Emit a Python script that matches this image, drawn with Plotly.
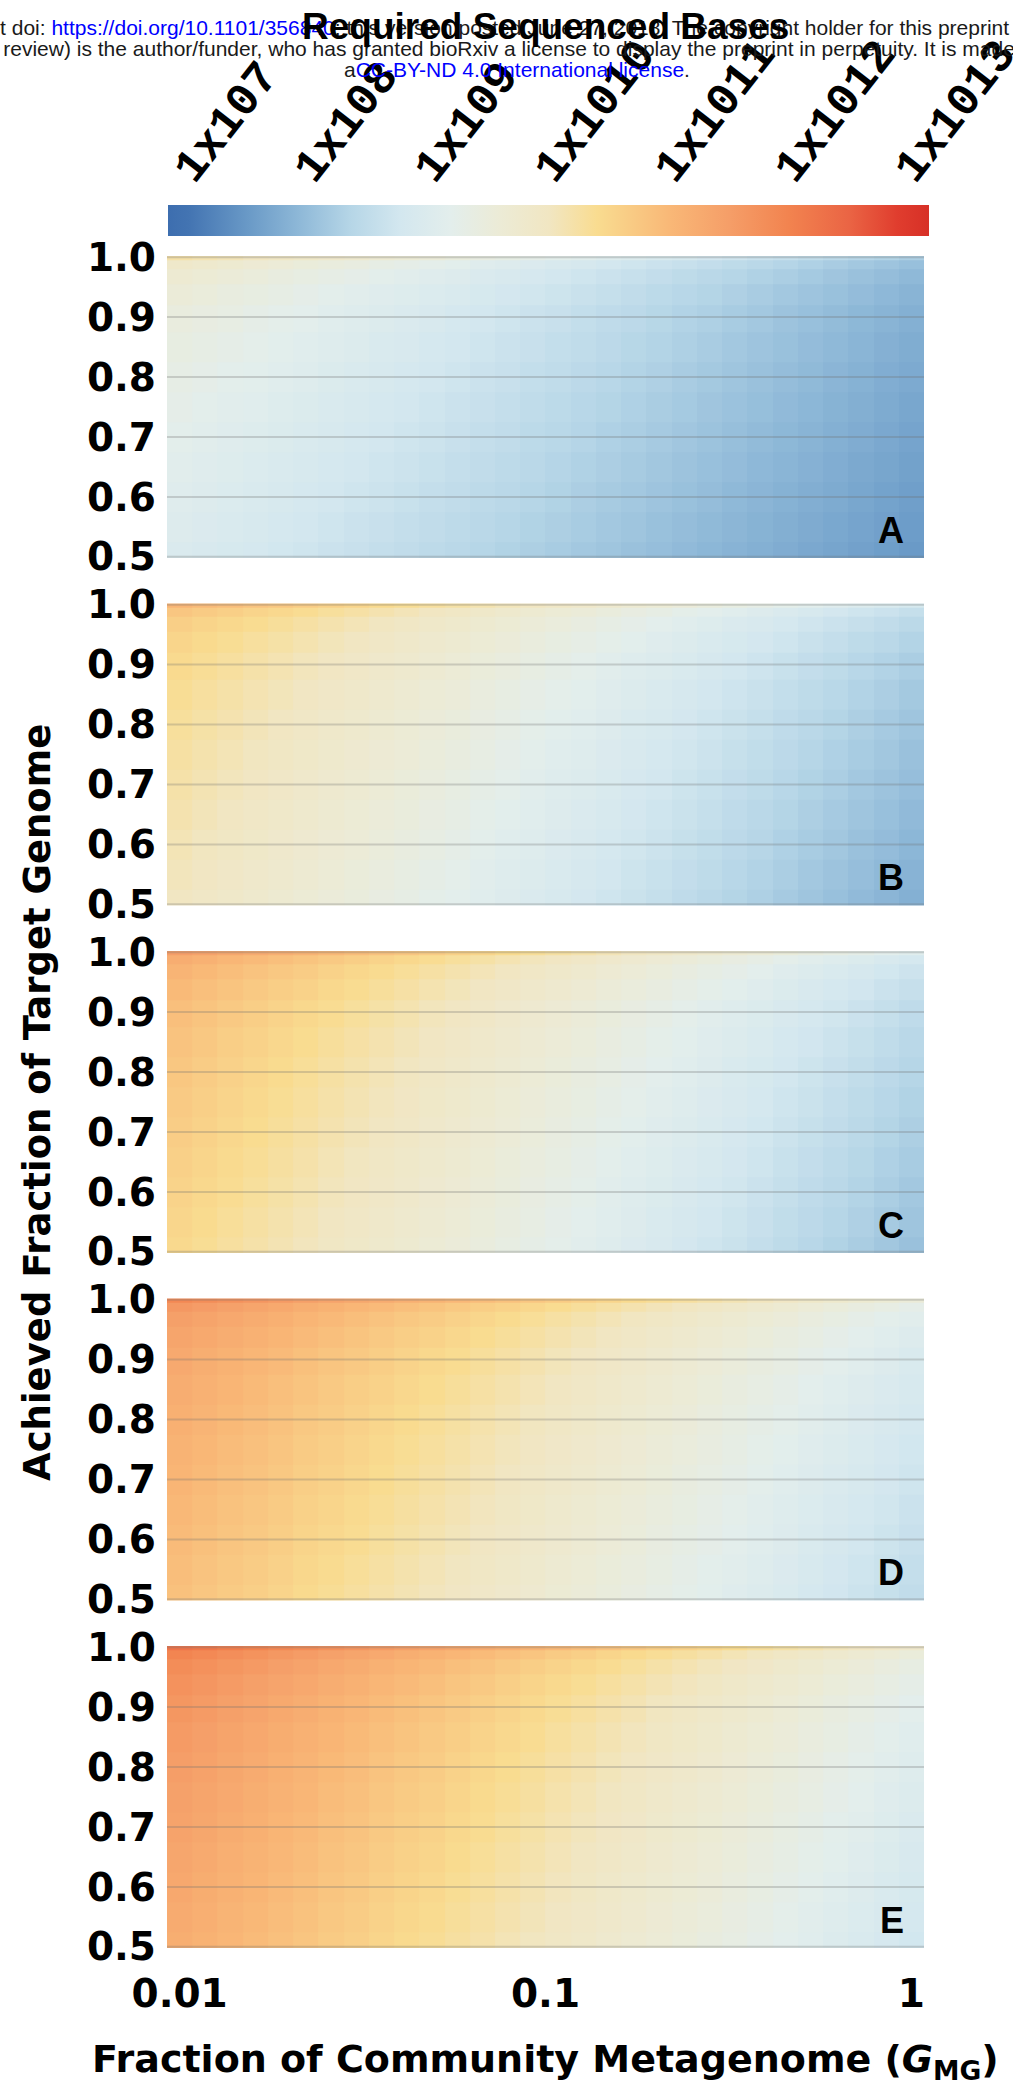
import math
import plotly.graph_objects as go
from plotly.subplots import make_subplots

# Column centres: fraction of the community metagenome (G_MG), 30 log-spaced values
gmg_fraction = [0.01, 0.01172, 0.01374, 0.01610, 0.01887, 0.02212, 0.02593, 0.03039, 0.03562, 0.04175,
                0.04894, 0.05736, 0.06723, 0.07880, 0.09237, 0.10826, 0.12690, 0.14874, 0.17433, 0.20434,
                0.23950, 0.28072, 0.32903, 0.38566, 0.45204, 0.52983, 0.62102, 0.72790, 0.85317, 1.0]

# Row centres: achieved fraction of the target genome
target_fraction = [0.5, 0.55, 0.6, 0.65, 0.7, 0.75, 0.8, 0.85, 0.9, 0.94, 0.97, 0.99, 1.0]

# log10(required sequenced bases), one row per target_fraction value (bottom to top)
log10_bases_A = [
    [8.95, 8.90, 8.85, 8.80, 8.75, 8.70, 8.65, 8.60, 8.55, 8.50, 8.45, 8.40, 8.35, 8.30, 8.25, 8.20, 8.15, 8.10, 8.05, 8.00, 7.95, 7.90, 7.85, 7.80, 7.75, 7.70, 7.65, 7.60, 7.55, 7.50],
    [9.01, 8.96, 8.91, 8.86, 8.81, 8.76, 8.71, 8.65, 8.60, 8.55, 8.50, 8.45, 8.40, 8.35, 8.30, 8.25, 8.20, 8.15, 8.10, 8.04, 7.99, 7.94, 7.89, 7.84, 7.79, 7.74, 7.69, 7.64, 7.59, 7.54],
    [9.07, 9.02, 8.97, 8.92, 8.86, 8.81, 8.76, 8.71, 8.66, 8.61, 8.55, 8.50, 8.45, 8.40, 8.35, 8.30, 8.24, 8.19, 8.14, 8.09, 8.04, 7.99, 7.93, 7.88, 7.83, 7.78, 7.73, 7.68, 7.62, 7.57],
    [9.13, 9.08, 9.03, 8.97, 8.92, 8.87, 8.82, 8.76, 8.71, 8.66, 8.61, 8.55, 8.50, 8.45, 8.40, 8.34, 8.29, 8.24, 8.19, 8.13, 8.08, 8.03, 7.98, 7.92, 7.87, 7.82, 7.77, 7.71, 7.66, 7.61],
    [9.19, 9.14, 9.08, 9.03, 8.98, 8.92, 8.87, 8.82, 8.76, 8.71, 8.66, 8.60, 8.55, 8.50, 8.44, 8.39, 8.34, 8.28, 8.23, 8.18, 8.12, 8.07, 8.02, 7.96, 7.91, 7.86, 7.80, 7.75, 7.70, 7.64],
    [9.25, 9.20, 9.14, 9.09, 9.03, 8.98, 8.93, 8.87, 8.82, 8.76, 8.71, 8.65, 8.60, 8.55, 8.49, 8.44, 8.38, 8.33, 8.28, 8.22, 8.17, 8.11, 8.06, 8.01, 7.95, 7.90, 7.84, 7.79, 7.73, 7.68],
    [9.31, 9.26, 9.20, 9.15, 9.09, 9.04, 8.98, 8.93, 8.87, 8.82, 8.76, 8.71, 8.65, 8.60, 8.54, 8.49, 8.43, 8.38, 8.32, 8.27, 8.21, 8.16, 8.10, 8.05, 7.99, 7.94, 7.88, 7.83, 7.77, 7.72],
    [9.38, 9.32, 9.27, 9.21, 9.16, 9.10, 9.04, 8.99, 8.93, 8.88, 8.82, 8.77, 8.71, 8.65, 8.60, 8.54, 8.49, 8.43, 8.37, 8.32, 8.26, 8.21, 8.15, 8.09, 8.04, 7.98, 7.93, 7.87, 7.81, 7.76],
    [9.45, 9.39, 9.34, 9.28, 9.22, 9.17, 9.11, 9.05, 9.00, 8.94, 8.88, 8.82, 8.77, 8.71, 8.65, 8.60, 8.54, 8.48, 8.43, 8.37, 8.31, 8.26, 8.20, 8.14, 8.08, 8.03, 7.97, 7.91, 7.86, 7.80],
    [9.55, 9.49, 9.43, 9.38, 9.32, 9.26, 9.20, 9.14, 9.08, 9.03, 8.97, 8.91, 8.85, 8.79, 8.73, 8.68, 8.62, 8.56, 8.50, 8.44, 8.38, 8.33, 8.27, 8.21, 8.15, 8.09, 8.04, 7.98, 7.92, 7.86],
    [9.67, 9.61, 9.55, 9.49, 9.43, 9.37, 9.31, 9.25, 9.19, 9.13, 9.07, 9.01, 8.95, 8.89, 8.83, 8.77, 8.71, 8.65, 8.59, 8.53, 8.47, 8.41, 8.35, 8.29, 8.23, 8.17, 8.11, 8.05, 7.99, 7.93],
    [9.83, 9.77, 9.71, 9.64, 9.58, 9.52, 9.46, 9.40, 9.33, 9.27, 9.21, 9.15, 9.08, 9.02, 8.96, 8.90, 8.84, 8.77, 8.71, 8.65, 8.59, 8.53, 8.46, 8.40, 8.34, 8.28, 8.21, 8.15, 8.09, 8.03],
    [10.20, 10.13, 10.07, 10.00, 9.93, 9.86, 9.80, 9.73, 9.66, 9.60, 9.53, 9.46, 9.39, 9.33, 9.26, 9.19, 9.12, 9.06, 8.99, 8.92, 8.86, 8.79, 8.72, 8.65, 8.59, 8.52, 8.45, 8.38, 8.32, 8.25],
]

log10_bases_B = [
    [10.00, 9.92, 9.85, 9.77, 9.70, 9.62, 9.54, 9.47, 9.39, 9.32, 9.24, 9.17, 9.09, 9.01, 8.94, 8.86, 8.79, 8.71, 8.63, 8.56, 8.48, 8.41, 8.33, 8.26, 8.18, 8.10, 8.03, 7.95, 7.88, 7.80],
    [10.05, 9.97, 9.90, 9.82, 9.75, 9.67, 9.59, 9.52, 9.44, 9.37, 9.29, 9.22, 9.14, 9.06, 8.99, 8.91, 8.84, 8.76, 8.68, 8.61, 8.53, 8.46, 8.38, 8.31, 8.23, 8.15, 8.08, 8.00, 7.93, 7.85],
    [10.10, 10.02, 9.95, 9.87, 9.80, 9.72, 9.64, 9.57, 9.49, 9.42, 9.34, 9.27, 9.19, 9.11, 9.04, 8.96, 8.89, 8.81, 8.73, 8.66, 8.58, 8.51, 8.43, 8.36, 8.28, 8.20, 8.13, 8.05, 7.98, 7.90],
    [10.15, 10.07, 10.00, 9.92, 9.85, 9.77, 9.69, 9.62, 9.54, 9.47, 9.39, 9.32, 9.24, 9.16, 9.09, 9.01, 8.94, 8.86, 8.78, 8.71, 8.63, 8.56, 8.48, 8.41, 8.33, 8.25, 8.18, 8.10, 8.03, 7.95],
    [10.20, 10.12, 10.05, 9.97, 9.90, 9.82, 9.74, 9.67, 9.59, 9.52, 9.44, 9.37, 9.29, 9.21, 9.14, 9.06, 8.99, 8.91, 8.83, 8.76, 8.68, 8.61, 8.53, 8.46, 8.38, 8.30, 8.23, 8.15, 8.08, 8.00],
    [10.25, 10.17, 10.10, 10.02, 9.95, 9.87, 9.79, 9.72, 9.64, 9.57, 9.49, 9.42, 9.34, 9.26, 9.19, 9.11, 9.04, 8.96, 8.88, 8.81, 8.73, 8.66, 8.58, 8.51, 8.43, 8.35, 8.28, 8.20, 8.13, 8.05],
    [10.30, 10.22, 10.15, 10.07, 10.00, 9.92, 9.84, 9.77, 9.69, 9.62, 9.54, 9.47, 9.39, 9.31, 9.24, 9.16, 9.09, 9.01, 8.93, 8.86, 8.78, 8.71, 8.63, 8.56, 8.48, 8.40, 8.33, 8.25, 8.18, 8.10],
    [10.36, 10.28, 10.21, 10.13, 10.06, 9.98, 9.90, 9.83, 9.75, 9.68, 9.60, 9.53, 9.45, 9.37, 9.30, 9.22, 9.15, 9.07, 8.99, 8.92, 8.84, 8.77, 8.69, 8.62, 8.54, 8.46, 8.39, 8.31, 8.24, 8.16],
    [10.43, 10.35, 10.28, 10.20, 10.13, 10.05, 9.97, 9.90, 9.82, 9.75, 9.67, 9.60, 9.52, 9.44, 9.37, 9.29, 9.22, 9.14, 9.06, 8.99, 8.91, 8.84, 8.76, 8.69, 8.61, 8.53, 8.46, 8.38, 8.31, 8.23],
    [10.52, 10.44, 10.37, 10.29, 10.22, 10.14, 10.06, 9.99, 9.91, 9.84, 9.76, 9.69, 9.61, 9.53, 9.46, 9.38, 9.31, 9.23, 9.15, 9.08, 9.00, 8.93, 8.85, 8.78, 8.70, 8.62, 8.55, 8.47, 8.40, 8.32],
    [10.62, 10.54, 10.47, 10.39, 10.32, 10.24, 10.16, 10.09, 10.01, 9.94, 9.86, 9.79, 9.71, 9.63, 9.56, 9.48, 9.41, 9.33, 9.25, 9.18, 9.10, 9.03, 8.95, 8.88, 8.80, 8.72, 8.65, 8.57, 8.50, 8.42],
    [10.76, 10.68, 10.61, 10.53, 10.46, 10.38, 10.30, 10.23, 10.15, 10.08, 10.00, 9.93, 9.85, 9.77, 9.70, 9.62, 9.55, 9.47, 9.39, 9.32, 9.24, 9.17, 9.09, 9.02, 8.94, 8.86, 8.79, 8.71, 8.64, 8.56],
    [11.05, 10.97, 10.90, 10.82, 10.75, 10.67, 10.59, 10.52, 10.44, 10.37, 10.29, 10.22, 10.14, 10.06, 9.99, 9.91, 9.84, 9.76, 9.68, 9.61, 9.53, 9.46, 9.38, 9.31, 9.23, 9.15, 9.08, 9.00, 8.93, 8.85],
]

log10_bases_C = [
    [10.45, 10.37, 10.28, 10.20, 10.12, 10.04, 9.95, 9.87, 9.79, 9.71, 9.62, 9.54, 9.46, 9.37, 9.29, 9.21, 9.13, 9.04, 8.96, 8.88, 8.79, 8.71, 8.63, 8.55, 8.46, 8.38, 8.30, 8.22, 8.13, 8.05],
    [10.50, 10.42, 10.33, 10.25, 10.17, 10.09, 10.00, 9.92, 9.84, 9.76, 9.67, 9.59, 9.51, 9.42, 9.34, 9.26, 9.18, 9.09, 9.01, 8.93, 8.84, 8.76, 8.68, 8.60, 8.51, 8.43, 8.35, 8.27, 8.18, 8.10],
    [10.55, 10.47, 10.38, 10.30, 10.22, 10.14, 10.05, 9.97, 9.89, 9.81, 9.72, 9.64, 9.56, 9.47, 9.39, 9.31, 9.23, 9.14, 9.06, 8.98, 8.89, 8.81, 8.73, 8.65, 8.56, 8.48, 8.40, 8.32, 8.23, 8.15],
    [10.60, 10.52, 10.43, 10.35, 10.27, 10.19, 10.10, 10.02, 9.94, 9.86, 9.77, 9.69, 9.61, 9.52, 9.44, 9.36, 9.28, 9.19, 9.11, 9.03, 8.94, 8.86, 8.78, 8.70, 8.61, 8.53, 8.45, 8.37, 8.28, 8.20],
    [10.65, 10.57, 10.48, 10.40, 10.32, 10.24, 10.15, 10.07, 9.99, 9.91, 9.82, 9.74, 9.66, 9.57, 9.49, 9.41, 9.33, 9.24, 9.16, 9.08, 8.99, 8.91, 8.83, 8.75, 8.66, 8.58, 8.50, 8.42, 8.33, 8.25],
    [10.70, 10.62, 10.53, 10.45, 10.37, 10.29, 10.20, 10.12, 10.04, 9.96, 9.87, 9.79, 9.71, 9.62, 9.54, 9.46, 9.38, 9.29, 9.21, 9.13, 9.04, 8.96, 8.88, 8.80, 8.71, 8.63, 8.55, 8.47, 8.38, 8.30],
    [10.75, 10.67, 10.58, 10.50, 10.42, 10.34, 10.25, 10.17, 10.09, 10.01, 9.92, 9.84, 9.76, 9.67, 9.59, 9.51, 9.43, 9.34, 9.26, 9.18, 9.09, 9.01, 8.93, 8.85, 8.76, 8.68, 8.60, 8.52, 8.43, 8.35],
    [10.81, 10.73, 10.64, 10.56, 10.48, 10.40, 10.31, 10.23, 10.15, 10.07, 9.98, 9.90, 9.82, 9.73, 9.65, 9.57, 9.49, 9.40, 9.32, 9.24, 9.15, 9.07, 8.99, 8.91, 8.82, 8.74, 8.66, 8.58, 8.49, 8.41],
    [10.88, 10.80, 10.71, 10.63, 10.55, 10.47, 10.38, 10.30, 10.22, 10.14, 10.05, 9.97, 9.89, 9.80, 9.72, 9.64, 9.56, 9.47, 9.39, 9.31, 9.22, 9.14, 9.06, 8.98, 8.89, 8.81, 8.73, 8.65, 8.56, 8.48],
    [10.97, 10.89, 10.80, 10.72, 10.64, 10.56, 10.47, 10.39, 10.31, 10.23, 10.14, 10.06, 9.98, 9.89, 9.81, 9.73, 9.65, 9.56, 9.48, 9.40, 9.31, 9.23, 9.15, 9.07, 8.98, 8.90, 8.82, 8.74, 8.65, 8.57],
    [11.07, 10.99, 10.90, 10.82, 10.74, 10.66, 10.57, 10.49, 10.41, 10.33, 10.24, 10.16, 10.08, 9.99, 9.91, 9.83, 9.75, 9.66, 9.58, 9.50, 9.41, 9.33, 9.25, 9.17, 9.08, 9.00, 8.92, 8.84, 8.75, 8.67],
    [11.21, 11.13, 11.04, 10.96, 10.88, 10.80, 10.71, 10.63, 10.55, 10.47, 10.38, 10.30, 10.22, 10.13, 10.05, 9.97, 9.89, 9.80, 9.72, 9.64, 9.55, 9.47, 9.39, 9.31, 9.22, 9.14, 9.06, 8.98, 8.89, 8.81],
    [11.50, 11.42, 11.33, 11.25, 11.17, 11.09, 11.00, 10.92, 10.84, 10.76, 10.67, 10.59, 10.51, 10.42, 10.34, 10.26, 10.18, 10.09, 10.01, 9.93, 9.84, 9.76, 9.68, 9.60, 9.51, 9.43, 9.35, 9.27, 9.18, 9.10],
]

log10_bases_D = [
    [10.85, 10.77, 10.69, 10.61, 10.53, 10.44, 10.36, 10.28, 10.20, 10.12, 10.04, 9.96, 9.88, 9.80, 9.72, 9.63, 9.55, 9.47, 9.39, 9.31, 9.23, 9.15, 9.07, 8.99, 8.91, 8.82, 8.74, 8.66, 8.58, 8.50],
    [10.90, 10.82, 10.74, 10.66, 10.58, 10.49, 10.41, 10.33, 10.25, 10.17, 10.09, 10.01, 9.93, 9.85, 9.77, 9.68, 9.60, 9.52, 9.44, 9.36, 9.28, 9.20, 9.12, 9.04, 8.96, 8.87, 8.79, 8.71, 8.63, 8.55],
    [10.95, 10.87, 10.79, 10.71, 10.63, 10.54, 10.46, 10.38, 10.30, 10.22, 10.14, 10.06, 9.98, 9.90, 9.82, 9.73, 9.65, 9.57, 9.49, 9.41, 9.33, 9.25, 9.17, 9.09, 9.01, 8.92, 8.84, 8.76, 8.68, 8.60],
    [11.00, 10.92, 10.84, 10.76, 10.68, 10.59, 10.51, 10.43, 10.35, 10.27, 10.19, 10.11, 10.03, 9.95, 9.87, 9.78, 9.70, 9.62, 9.54, 9.46, 9.38, 9.30, 9.22, 9.14, 9.06, 8.97, 8.89, 8.81, 8.73, 8.65],
    [11.05, 10.97, 10.89, 10.81, 10.73, 10.64, 10.56, 10.48, 10.40, 10.32, 10.24, 10.16, 10.08, 10.00, 9.92, 9.83, 9.75, 9.67, 9.59, 9.51, 9.43, 9.35, 9.27, 9.19, 9.11, 9.02, 8.94, 8.86, 8.78, 8.70],
    [11.10, 11.02, 10.94, 10.86, 10.78, 10.69, 10.61, 10.53, 10.45, 10.37, 10.29, 10.21, 10.13, 10.05, 9.97, 9.88, 9.80, 9.72, 9.64, 9.56, 9.48, 9.40, 9.32, 9.24, 9.16, 9.07, 8.99, 8.91, 8.83, 8.75],
    [11.15, 11.07, 10.99, 10.91, 10.83, 10.74, 10.66, 10.58, 10.50, 10.42, 10.34, 10.26, 10.18, 10.10, 10.02, 9.93, 9.85, 9.77, 9.69, 9.61, 9.53, 9.45, 9.37, 9.29, 9.21, 9.12, 9.04, 8.96, 8.88, 8.80],
    [11.21, 11.13, 11.05, 10.97, 10.89, 10.80, 10.72, 10.64, 10.56, 10.48, 10.40, 10.32, 10.24, 10.16, 10.08, 9.99, 9.91, 9.83, 9.75, 9.67, 9.59, 9.51, 9.43, 9.35, 9.27, 9.18, 9.10, 9.02, 8.94, 8.86],
    [11.28, 11.20, 11.12, 11.04, 10.96, 10.87, 10.79, 10.71, 10.63, 10.55, 10.47, 10.39, 10.31, 10.23, 10.15, 10.06, 9.98, 9.90, 9.82, 9.74, 9.66, 9.58, 9.50, 9.42, 9.34, 9.25, 9.17, 9.09, 9.01, 8.93],
    [11.37, 11.29, 11.21, 11.13, 11.05, 10.96, 10.88, 10.80, 10.72, 10.64, 10.56, 10.48, 10.40, 10.32, 10.24, 10.15, 10.07, 9.99, 9.91, 9.83, 9.75, 9.67, 9.59, 9.51, 9.43, 9.34, 9.26, 9.18, 9.10, 9.02],
    [11.47, 11.39, 11.31, 11.23, 11.15, 11.06, 10.98, 10.90, 10.82, 10.74, 10.66, 10.58, 10.50, 10.42, 10.34, 10.25, 10.17, 10.09, 10.01, 9.93, 9.85, 9.77, 9.69, 9.61, 9.53, 9.44, 9.36, 9.28, 9.20, 9.12],
    [11.61, 11.53, 11.45, 11.37, 11.29, 11.20, 11.12, 11.04, 10.96, 10.88, 10.80, 10.72, 10.64, 10.56, 10.48, 10.39, 10.31, 10.23, 10.15, 10.07, 9.99, 9.91, 9.83, 9.75, 9.67, 9.58, 9.50, 9.42, 9.34, 9.26],
    [11.90, 11.82, 11.74, 11.66, 11.58, 11.49, 11.41, 11.33, 11.25, 11.17, 11.09, 11.01, 10.93, 10.85, 10.77, 10.68, 10.60, 10.52, 10.44, 10.36, 10.28, 10.20, 10.12, 10.04, 9.96, 9.87, 9.79, 9.71, 9.63, 9.55],
]

log10_bases_E = [
    [11.20, 11.12, 11.03, 10.95, 10.86, 10.78, 10.69, 10.61, 10.52, 10.44, 10.36, 10.27, 10.19, 10.10, 10.02, 9.93, 9.85, 9.76, 9.68, 9.59, 9.51, 9.43, 9.34, 9.26, 9.17, 9.09, 9.00, 8.92, 8.83, 8.75],
    [11.25, 11.17, 11.08, 11.00, 10.91, 10.83, 10.74, 10.66, 10.57, 10.49, 10.41, 10.32, 10.24, 10.15, 10.07, 9.98, 9.90, 9.81, 9.73, 9.64, 9.56, 9.48, 9.39, 9.31, 9.22, 9.14, 9.05, 8.97, 8.88, 8.80],
    [11.30, 11.22, 11.13, 11.05, 10.96, 10.88, 10.79, 10.71, 10.62, 10.54, 10.46, 10.37, 10.29, 10.20, 10.12, 10.03, 9.95, 9.86, 9.78, 9.69, 9.61, 9.53, 9.44, 9.36, 9.27, 9.19, 9.10, 9.02, 8.93, 8.85],
    [11.35, 11.27, 11.18, 11.10, 11.01, 10.93, 10.84, 10.76, 10.67, 10.59, 10.51, 10.42, 10.34, 10.25, 10.17, 10.08, 10.00, 9.91, 9.83, 9.74, 9.66, 9.58, 9.49, 9.41, 9.32, 9.24, 9.15, 9.07, 8.98, 8.90],
    [11.40, 11.32, 11.23, 11.15, 11.06, 10.98, 10.89, 10.81, 10.72, 10.64, 10.56, 10.47, 10.39, 10.30, 10.22, 10.13, 10.05, 9.96, 9.88, 9.79, 9.71, 9.63, 9.54, 9.46, 9.37, 9.29, 9.20, 9.12, 9.03, 8.95],
    [11.45, 11.37, 11.28, 11.20, 11.11, 11.03, 10.94, 10.86, 10.77, 10.69, 10.61, 10.52, 10.44, 10.35, 10.27, 10.18, 10.10, 10.01, 9.93, 9.84, 9.76, 9.68, 9.59, 9.51, 9.42, 9.34, 9.25, 9.17, 9.08, 9.00],
    [11.50, 11.42, 11.33, 11.25, 11.16, 11.08, 10.99, 10.91, 10.82, 10.74, 10.66, 10.57, 10.49, 10.40, 10.32, 10.23, 10.15, 10.06, 9.98, 9.89, 9.81, 9.73, 9.64, 9.56, 9.47, 9.39, 9.30, 9.22, 9.13, 9.05],
    [11.56, 11.48, 11.39, 11.31, 11.22, 11.14, 11.05, 10.97, 10.88, 10.80, 10.72, 10.63, 10.55, 10.46, 10.38, 10.29, 10.21, 10.12, 10.04, 9.95, 9.87, 9.79, 9.70, 9.62, 9.53, 9.45, 9.36, 9.28, 9.19, 9.11],
    [11.63, 11.55, 11.46, 11.38, 11.29, 11.21, 11.12, 11.04, 10.95, 10.87, 10.79, 10.70, 10.62, 10.53, 10.45, 10.36, 10.28, 10.19, 10.11, 10.02, 9.94, 9.86, 9.77, 9.69, 9.60, 9.52, 9.43, 9.35, 9.26, 9.18],
    [11.72, 11.64, 11.55, 11.47, 11.38, 11.30, 11.21, 11.13, 11.04, 10.96, 10.88, 10.79, 10.71, 10.62, 10.54, 10.45, 10.37, 10.28, 10.20, 10.11, 10.03, 9.95, 9.86, 9.78, 9.69, 9.61, 9.52, 9.44, 9.35, 9.27],
    [11.82, 11.74, 11.65, 11.57, 11.48, 11.40, 11.31, 11.23, 11.14, 11.06, 10.98, 10.89, 10.81, 10.72, 10.64, 10.55, 10.47, 10.38, 10.30, 10.21, 10.13, 10.05, 9.96, 9.88, 9.79, 9.71, 9.62, 9.54, 9.45, 9.37],
    [11.96, 11.88, 11.79, 11.71, 11.62, 11.54, 11.45, 11.37, 11.28, 11.20, 11.12, 11.03, 10.95, 10.86, 10.78, 10.69, 10.61, 10.52, 10.44, 10.35, 10.27, 10.19, 10.10, 10.02, 9.93, 9.85, 9.76, 9.68, 9.59, 9.51],
    [12.25, 12.17, 12.08, 12.00, 11.91, 11.83, 11.74, 11.66, 11.57, 11.49, 11.41, 11.32, 11.24, 11.15, 11.07, 10.98, 10.90, 10.81, 10.73, 10.64, 10.56, 10.48, 10.39, 10.31, 10.22, 10.14, 10.05, 9.97, 9.88, 9.80],
]

panel_labels = ["A", "B", "C", "D", "E"]
panel_grids = [log10_bases_A, log10_bases_B, log10_bases_C, log10_bases_D, log10_bases_E]

# Colour bar: exponents of the tick marks and their printed labels
cbar_exponents = [7, 8, 9, 10, 11, 12, 13]
cbar_ticktext = ["1x107", "1x108", "1x109", "1x1010", "1x1011", "1x1012", "1x1013"]
cbar_min, cbar_max = 6.827, 13.163

x_tickvals = [0.01, 0.1, 1]
x_ticktext = ["0.01", "0.1", "1"]
y_tickvals = [0.5, 0.6, 0.7, 0.8, 0.9, 1.0]
y_ticktext = ["0.5", "0.6", "0.7", "0.8", "0.9", "1.0"]

# Diverging blue-to-red palette keyed on log10(bases)
palette = [(6.827, "#3d6eaf"), (7.0, "#4374b2"), (7.5, "#6a9ac7"), (7.93, "#8fb9d8"),
           (8.35, "#b6d6e7"), (8.76, "#d3e7ef"), (9.18, "#e3eeec"), (9.59, "#ecebd6"),
           (10.0, "#f1e6c2"), (10.4, "#f9dc90"), (11.0, "#f9b877"), (11.5, "#f59e68"),
           (12.0, "#f2834f"), (12.5, "#ea6444"), (12.9, "#e03d2e"), (13.163, "#d73027")]
colorscale = [[(v - cbar_min) / (cbar_max - cbar_min), c] for v, c in palette]

# ---- page geometry (pixels) ----
W, H = 1013, 2099
M_L, M_R, M_T, M_B = 167, 89, 0, 151
PW = W - M_L - M_R
PH = H - M_T - M_B
panel_tops = [256, 603.5, 951, 1298.5, 1646]
panel_h = 302


def px_x(px):
    return (px - M_L) / PW


def px_y(py):
    return 1 - (py - M_T) / PH


x_range = [-2 - 1 / 29, 1 / 29]
y_range = [0.498, 1.002]

# colour bar placement
cb_left, cb_len, cb_top, cb_thick = 167.5, 761.1, 205, 31

BOLD_SANS = "DejaVu Sans"
fig = make_subplots(rows=5, cols=1, shared_xaxes=True, vertical_spacing=0.02)

for i, grid in enumerate(panel_grids):
    fig.add_trace(go.Heatmap(x=gmg_fraction, y=target_fraction, z=grid,
                             coloraxis="coloraxis", hoverinfo="skip"),
                  row=i + 1, col=1)

for i, top in enumerate(panel_tops):
    sfx = "" if i == 0 else str(i + 1)
    fig.layout["yaxis" + sfx].update(
        domain=[px_y(top + panel_h), px_y(top)], range=y_range,
        tickvals=y_tickvals, ticktext=y_ticktext, showgrid=False, zeroline=False,
        showline=False, ticks="", ticklabelstandoff=10,
        tickfont=dict(family=BOLD_SANS, size=39, color="black", weight="bold"))
    fig.layout["xaxis" + sfx].update(
        type="log", range=x_range, showgrid=False, zeroline=False, showline=False,
        ticks="", tickvals=x_tickvals, ticktext=x_ticktext,
        showticklabels=(i == 4), ticklabelstandoff=19,
        tickfont=dict(family=BOLD_SANS, size=39, color="black", weight="bold"))

    # grid lines drawn over the tiles
    for yv in y_tickvals:
        fig.add_shape(type="line", xref="x" + sfx + " domain", yref="y" + sfx,
                      x0=0, x1=1, y0=yv, y1=yv, layer="above",
                      line=dict(color="rgba(110,110,110,0.28)", width=2))
    for xv in x_tickvals:
        lx = math.log10(xv)
        fig.add_shape(type="line", xref="x" + sfx, yref="y" + sfx + " domain",
                      x0=lx, x1=lx, y0=0, y1=1, layer="above",
                      line=dict(color="rgba(110,110,110,0.22)", width=2))

    fig.add_annotation(text=panel_labels[i], xref="x" + sfx + " domain", yref="y" + sfx + " domain",
                       x=0.976, y=0.018, xanchor="right", yanchor="bottom", showarrow=False,
                       font=dict(family="Liberation Sans", size=36, color="black", weight="bold"))

# empty trace that carries the colour-bar tick axis
fig.add_trace(go.Scatter(x=[cbar_min, cbar_max], y=[None, None], xaxis="x6", yaxis="y",
                         mode="markers", showlegend=False, hoverinfo="skip"))

upp = (cbar_max - cbar_min) / cb_len
fig.update_layout(
    coloraxis=dict(
        colorscale=colorscale, cmin=cbar_min, cmax=cbar_max,
        colorbar=dict(orientation="h", x=px_x(cb_left + cb_len / 2), xanchor="center",
                      y=px_y(cb_top), yanchor="top",
                      len=cb_len, lenmode="pixels", thickness=cb_thick, thicknessmode="pixels",
                      xpad=0, ypad=0, outlinewidth=0, ticks="", showticklabels=False)),
    # axis carrying the colour-bar ticks and labels
    xaxis6=dict(overlaying="x", anchor="free", position=px_y(cb_top), side="top",
                type="linear",
                range=[cbar_min - (cb_left - M_L) * upp, cbar_min + (M_L + PW - cb_left) * upp],
                tickvals=cbar_exponents, ticktext=cbar_ticktext, tickangle=-52,
                ticks="inside", ticklen=10, tickwidth=2, tickcolor="black",
                showgrid=False, zeroline=False, showline=False,
                ticklabelstandoff=2, ticklabelshift=-12, ticklabeloverflow="allow",
                tickfont=dict(family="Liberation Mono", size=46, color="black", weight="bold")),
)

# preprint header
blue = "#0000ff"
header_lines = [
    'bioRxiv preprint doi: <span style="color:%s">https://doi.org/10.1101/356840</span>; this version posted June 27, 2018. The copyright holder for this preprint (which was not' % blue,
    'certified by peer review) is the author/funder, who has granted bioRxiv a license to display the preprint in perpetuity. It is made available under',
    'a<span style="color:%s">CC-BY-ND 4.0 International license</span>.' % blue,
]
for line, xc, yc in zip(header_lines, [507, 505, 517], [27.5, 48.5, 69.5]):
    fig.add_annotation(text=line, xref="paper", yref="paper", x=px_x(xc), y=px_y(yc),
                       xanchor="center", yanchor="middle", showarrow=False,
                       font=dict(family="Liberation Sans", size=21, color="#1a1a1a"))

# colour bar title
fig.add_annotation(text="Required Sequenced Bases", xref="paper", yref="paper",
                   x=px_x(545), y=px_y(27), xanchor="center", yanchor="middle", showarrow=False,
                   font=dict(family="Liberation Sans", size=37, color="black", weight="bold"))

# axis titles
fig.add_annotation(text="Fraction of Community Metagenome (<i>G</i><sub>MG</sub>)",
                   xref="paper", yref="paper", x=0.5, y=px_y(2061),
                   xanchor="center", yanchor="middle", showarrow=False,
                   font=dict(family=BOLD_SANS, size=38, color="black", weight="bold"))
fig.add_annotation(text="Achieved Fraction of Target Genome", textangle=-90,
                   xref="paper", yref="paper", x=px_x(37), y=px_y(1103),
                   xanchor="center", yanchor="middle", showarrow=False,
                   font=dict(family=BOLD_SANS, size=37, color="black", weight="bold"))

fig.update_layout(width=W, height=H,
                  margin=dict(l=M_L, r=M_R, t=M_T, b=M_B, autoexpand=False),
                  paper_bgcolor="white", plot_bgcolor="white", showlegend=False)

fig.write_html("out.html")
